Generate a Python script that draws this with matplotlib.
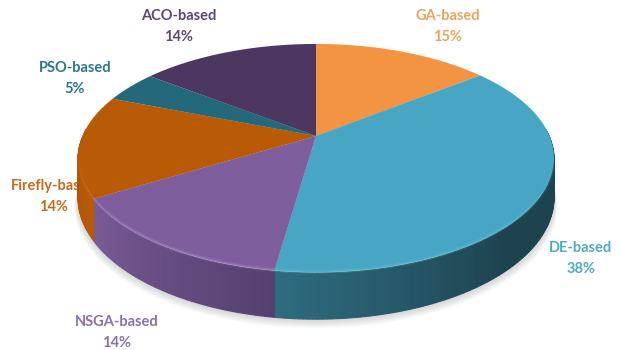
import numpy as np
import matplotlib
matplotlib.use('Agg')
import matplotlib.pyplot as plt
from matplotlib.colors import to_rgb

# Slice data, clockwise from 12 o'clock
categories = ['GA-based', 'DE-based', 'NSGA-based', 'Firefly-based', 'PSO-based', 'ACO-based']
shares = [14.4, 37.9, 14.1, 14.5, 4.5, 14.6]  # as measured off the slice edges
percent_labels = ['15%', '38%', '14%', '14%', '5%', '14%']

top_colors = ['#f29442', '#47a6c4', '#7e5e9d', '#b85a06', '#23687b', '#4b3760']
wall_start = ['#f29442', '#1d434f', '#55406f', '#b85a06', '#23687b', '#4b3760']
wall_end = ['#f29442', '#2f6c80', '#7a5b98', '#a85205', '#23687b', '#4b3760']
bevel_colors = ['#f29442', '#5cbcd6', '#a585cc', '#cc7a2a', '#23687b', '#4b3760']
text_colors = ['#f3a25c', '#50a9c5', '#8a70aa', '#c46b1e', '#2f7687', '#5b4973']
label_pos = [(448, 16), (581, 248), (117, 322), (54, 186), (75, 68), (179, 16)]

# Perspective set-up of the disc, in pixels
cx, cy = 316, 136
rx, ry, k = 233.5, 109.8, 0.193
depth = 38


def project(theta):
    u, v = np.sin(theta), np.cos(theta)
    w = 1 + k * v
    return cx + rx * u / w, cy - ry * v / w, depth / w


fig = plt.figure(figsize=(6.21, 3.5), dpi=100)
ax = fig.add_axes([0, 0, 1, 1])
ax.set_xlim(0, 621)
ax.set_ylim(350, 0)
ax.axis('off')

edges = np.radians(np.concatenate([[0], np.cumsum(shares)]) * 3.6)

# Soft shadow under the disc
t = np.linspace(0, 2 * np.pi, 300)
sx, sy, sd = project(t)
for grow in np.linspace(9, 0, 10):
    ax.fill(cx + (sx - cx) * (1 + grow / 600), sy + sd + grow, color='#70767a',
            alpha=0.035, lw=0, zorder=1)

# Labels sit behind the disc (the Firefly one gets cut off by it)
for name, pct, col, (lx, ly) in zip(categories, percent_labels, text_colors, label_pos):
    ax.text(lx, ly, name, color=col, family='Lato', weight='bold', fontsize=10.5,
            ha='center', va='center', zorder=2)
    ax.text(lx, ly + 21, pct, color=col, family='Lato', weight='bold', fontsize=10.5,
            ha='center', va='center', zorder=2)

# Side wall, thin strips with a colour ramp (front part only)
for i in range(len(shares)):
    a, b = edges[i], edges[i + 1]
    ts = np.linspace(a, b, int((b - a) * 60) + 2)
    c0, c1 = np.array(to_rgb(wall_start[i])), np.array(to_rgb(wall_end[i]))
    for j in range(len(ts) - 1):
        if np.cos(ts[j]) > 0.08 or np.cos(ts[j + 1]) > 0.08:
            continue
        f = (ts[j] - a) / (b - a)
        if i == 1:
            f = np.clip((f - 0.62) / 0.38, 0, 1)
        col = c0 + (c1 - c0) * f
        x1, y1, d1 = project(ts[j])
        x2, y2, d2 = project(ts[j + 1])
        # edge in the same colour closes the gaps between strips
        ax.fill([x1, x2, x2, x1], [y1 + 1, y2 + 1, y2 + d2, y1 + d1],
                facecolor=col, edgecolor=col, lw=0.8, zorder=3)

# Top face
for i in range(len(shares)):
    ts = np.linspace(edges[i], edges[i + 1], 120)
    x, y, _ = project(ts)
    ax.fill(np.r_[cx, x], np.r_[cy, y], color=top_colors[i], lw=0, zorder=4)

# Bevel highlight along the front rim
for i in range(len(shares)):
    ts = np.linspace(edges[i], edges[i + 1], 80)
    for j in range(len(ts) - 1):
        fade = np.clip(-np.cos(ts[j]) * 1.3, 0, 1)
        if fade <= 0:
            continue
        x, y, _ = project(ts[j:j + 2])
        for lw, alpha in [(3.0, 0.18), (1.5, 0.4)]:
            ax.plot(x, y - 0.5, color=bevel_colors[i], lw=lw, alpha=alpha * fade,
                    solid_capstyle='butt', zorder=5)

fig.savefig('out.png', dpi=100)
